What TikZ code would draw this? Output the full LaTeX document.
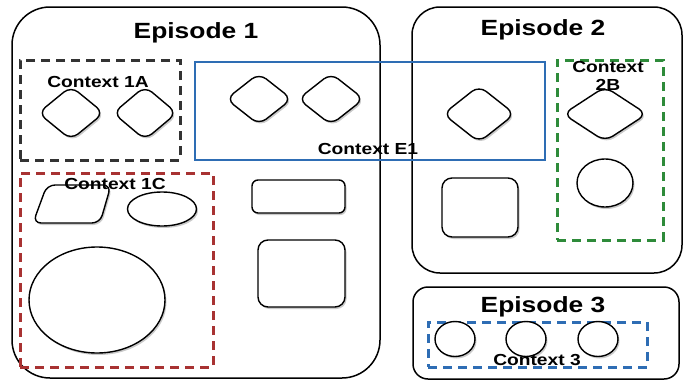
\documentclass[tikz,border=0pt]{standalone}
\usepackage{fontspec}
\setmainfont[FakeStretch=1.2]{Liberation Sans}
\usetikzlibrary{shapes.geometric,shadows}
\definecolor{ctxblack}{HTML}{333333}
\definecolor{ctxred}{HTML}{A83232}
\definecolor{ctxgreen}{HTML}{2E8B3A}
\definecolor{ctxblue}{HTML}{2E6DB4}
\tikzset{
  episode/.style={draw, line width=1.5pt, inner sep=0pt},
  ctxbox/.style={draw, line width=3pt, inner sep=0pt, dash pattern=on 9pt off 6pt},
  obj/.style={draw, fill=white, line width=1.4pt, inner sep=0pt,
    drop shadow={shadow xshift=1.5pt, shadow yshift=-2pt, opacity=0.35, fill=black!60}},
  dia/.style={obj, shape=diamond, rounded corners=9pt},
  oval/.style={obj, shape=ellipse},
  rbox/.style={obj, rectangle},
  eptitle/.style={font=\bfseries\fontsize{22}{24}\selectfont, inner sep=0pt},
  ctxtitle/.style={font=\bfseries\fontsize{16}{18}\selectfont, inner sep=0pt, align=center},
}
\begin{document}
\begin{tikzpicture}[x=1pt,y=-1pt]
\useasboundingbox (0,0) rectangle (686,383);
% Episodes
\node[episode, rounded corners=38pt, minimum width=368pt, minimum height=371pt] (ep1) at (196,192.5) {};
\node[episode, rounded corners=28pt, minimum width=270pt, minimum height=266pt] (ep2) at (547,140) {};
\node[episode, rounded corners=15pt, minimum width=266pt, minimum height=92pt] (ep3) at (546,333) {};
\node[eptitle] (ep1t) at (196,33) {Episode 1};
\node[eptitle] (ep2t) at (543,30) {Episode 2};
\node[eptitle] (ep3t) at (543,307) {Episode 3};
% Contexts
\node[ctxbox, draw=ctxblack, minimum width=160pt, minimum height=100pt] (c1a) at (100,110) {};
\node[draw=ctxblue, line width=2.8pt, inner sep=0pt, minimum width=350pt, minimum height=98pt] (ce1) at (370,111) {};
\node[ctxbox, draw=ctxred, minimum width=193pt, minimum height=194pt] (c1c) at (116.5,270) {};
\node[ctxbox, draw=ctxgreen, minimum width=106pt, minimum height=180pt] (c2b) at (610,150) {};
\node[ctxbox, draw=ctxblue, minimum width=219pt, minimum height=45pt] (c3) at (537.5,344.5) {};
% Context 1A shapes
\node[dia, minimum width=66pt, minimum height=54pt] (a1) at (71,113) {};
\node[dia, minimum width=64pt, minimum height=54pt] (a2) at (145,113) {};
% Context E1 shapes
\node[dia, minimum width=66pt, minimum height=52pt] (e1) at (259,99) {};
\node[dia, minimum width=66pt, minimum height=52pt] (e2) at (331,99) {};
\node[dia, minimum width=72pt, minimum height=57pt] (e3) at (479,114) {};
% Context 2B shapes
\node[dia, minimum width=84pt, minimum height=55pt] (b1) at (605,114) {};
\node[oval, minimum width=56pt, minimum height=48pt] (b2) at (605,183) {};
% Context 1C shapes
\draw[obj, rounded corners=8pt] (47,185) -- (111,185) -- (100,223) -- (33,223) -- cycle;
\node[oval, minimum width=69pt, minimum height=34pt] (c1e) at (162,209) {};
\node[oval, minimum width=136pt, minimum height=106pt] (c1b) at (97,300) {};
% Episode 1 boxes
\node[rbox, rounded corners=6pt, minimum width=93pt, minimum height=33pt] (r1) at (298.5,196.5) {};
\node[rbox, rounded corners=10pt, minimum width=87pt, minimum height=67pt] (r2) at (301.5,273.5) {};
% Episode 2 box
\node[rbox, rounded corners=10pt, minimum width=76pt, minimum height=59pt] (r3) at (480,207.5) {};
% Context 3 circles
\node[oval, minimum width=40pt, minimum height=35pt] (k1) at (455,339) {};
\node[oval, minimum width=40pt, minimum height=35pt] (k2) at (526,339) {};
\node[oval, minimum width=40pt, minimum height=35pt] (k3) at (598,339) {};
% Context labels
\node[ctxtitle] (c1at) at (98,82) {Context 1A};
\node[ctxtitle] (ce1t) at (368,149) {Context E1};
\node[ctxtitle] (c1ct) at (115,184) {Context 1C};
\node[ctxtitle] (c2bt) at (608,76) {Context\\2B};
\node[ctxtitle] (c3t) at (537,360) {Context 3};
\end{tikzpicture}
\end{document}
